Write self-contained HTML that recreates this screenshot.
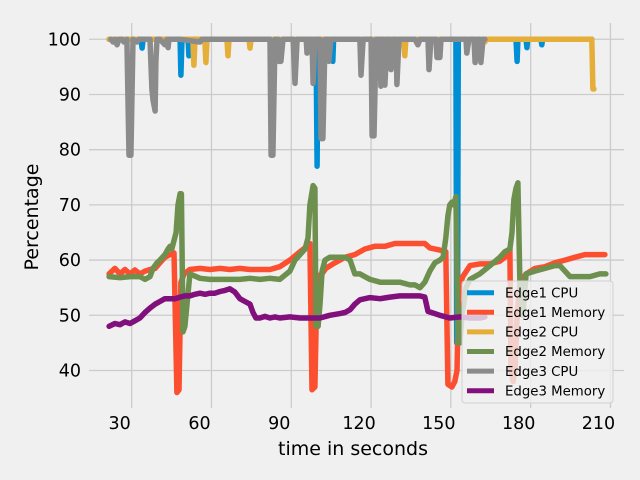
<!DOCTYPE html>
<html><head><meta charset="utf-8"><style>
html,body{margin:0;padding:0;background:#f0f0f0;}
svg{display:block;font-family:"DejaVu Sans","Liberation Sans",sans-serif;}
</style></head><body>
<svg id="chart" width="640" height="480" viewBox="0 0 640 480">
<rect x="0" y="0" width="640" height="480" fill="#f0f0f0"/>
<g id="grid"></g>
<g id="ticks"></g>
<g id="series"></g>
<text x="353" y="455" font-size="19" text-anchor="middle" fill="#000">time in seconds</text>
<text x="38" y="217" font-size="19" text-anchor="middle" fill="#000" transform="rotate(-90 38 217)">Percentage</text>
<g id="legend"></g>
</svg>
<script>
const xTicks=[30,60,90,120,150,180,210];
const yTicks=[40,50,60,70,80,90,100];
const seriesNames=["Edge1 CPU","Edge1 Memory","Edge2 CPU","Edge2 Memory","Edge3 CPU","Edge3 Memory"];
const seriesColors=["#008fd5","#fc4f30","#e5ae38","#6d904f","#8b8b8b","#810f7c"];

const e1cpuT=[21.5,33.5,33.9,34.3,48.2,48.5,48.9,51.2,51.5,51.9,99.3,99.7,100.1,105.3,105.6,105.9,151.9,152.2,152.5,152.8,174.5,174.9,175.2,178.3,178.6,178.9,183.9,184.2,184.5,203.0];
const e1cpuV=[100,100,98.4,100,100,93.5,100,100,97,100,100,77,100,100,96,100,100,45,45,100,100,96,100,100,98.5,100,100,99,100,100];

const e1memT=[21.5,23.7,25.6,27.5,29.4,31.2,33.1,35,36.9,38.8,40.6,42.5,44.4,45.9,47.0,47.8,48.5,49.7,51.9,55.7,59.4,63.2,66.9,70.7,74.5,78.2,82,85.7,89.5,93.3,95.9,97,97.8,98.9,99.7,101.5,103,106.4,110.2,113.9,117.7,121.4,125.2,129,132.7,136.5,140.2,142.1,145.9,148.1,148.9,150.4,151.5,152.3,153,154.5,157.2,160.9,164.7,168.4,170.3,171.5,172.2,172.6,173.4,174.1,174.9,176,178.3,181.6,185.4,189.1,192.9,196.6,200.4,204.2,207.9];
const e1memV=[57.5,58.5,57.5,58.3,57.5,58.2,57.5,58,58.3,58.5,59.5,60.5,61,61.3,36,36.5,56,57.5,58.3,58.5,58.3,58.5,58.3,58.5,58.3,58.3,58.3,58.8,60,61.5,62.5,63,36.5,37,57,57.5,58.5,59.5,60.5,61,62,62.5,62.5,63,63,63,63,62.2,61.8,61.5,37.5,37,38,40,55,57,59,59.3,59.3,59.8,60.5,61,62,40,38,40,50,56,57.5,58.5,58.8,59.5,60,60.5,61,61,61];

const e2cpuT=[21.5,53.0,53.4,53.8,57.5,57.9,58.3,65.8,66.2,66.6,74.1,74.5,74.9,132.3,132.7,133.1,162.4,162.8,163.2,203.0,203.4,203.8];
const e2cpuV=[100,100,95.3,100,100,95.8,100,100,97,100,100,98.4,100,100,97,100,100,99.5,100,100,91,91];

const e2memT=[21.5,25.6,29.4,33.1,35,36.9,38,39.5,40.6,42.5,43.7,44.4,45.1,46.7,47.4,48.2,48.7,49.3,50.0,50.8,51.9,55.7,59.4,63.2,66.9,70.7,74.5,78.2,82,85.7,89.5,91.4,93.3,95.2,96.3,97,98.2,98.9,99.3,100.1,100.8,101.6,102.7,104.5,108.3,110.2,112.1,113.9,115.8,119.6,123.4,127.1,130.8,134.6,136.5,138.4,140.2,142.1,144,145.9,147.1,148.1,148.9,149.6,150.4,151.1,151.9,152.7,153.4,154.2,155.7,157.2,160.9,164.7,168.4,170.3,172.2,173,173.7,174.5,175.2,176,177.1,178.3,181.6,185.4,189.1,191,192.9,194.8,198.5,202.3,206,208.3];
const e2memV=[57,56.8,57,57,56.5,57,58.5,59.5,60,61,62,62.5,62,65,70,72,72,47,48,52,57.5,56.7,56.5,56.5,56.5,56.5,56.7,56.5,56.7,56.5,58,60,61,62,64,70,73.5,73,48,48,52,58,60,60.5,60.5,60.5,60,57.5,57.5,56.5,56,56,56,55.5,55.5,55,56,58,59.5,60,60.5,64,68,70,70.5,70,71.5,45,45,50,55,56.5,57.5,59,60.5,61.5,62,65,71,73,74,55,50,57.5,58,58.5,59,59,58,57,57,57,57.5,57.5];

const e3cpuT=[22.2,23.0,23.7,24.5,25.2,26.4,27.1,28.2,29.0,29.7,30.5,32.0,32.7,33.1,36.9,37.6,38.0,38.8,39.1,39.5,40.6,42.5,43.3,43.7,44.0,48.2,55.7,56.4,66.9,74.5,82.0,82.4,83.1,83.9,85.0,85.4,86.1,86.9,90.7,91.4,92.2,95.6,95.9,96.3,97.8,98.2,98.9,100.8,101.2,101.9,102.7,103.8,104.1,104.9,110.2,115.8,116.2,117.0,120.0,120.4,121.1,121.9,123.4,123.7,124.1,124.9,125.2,126.0,127.1,127.5,128.2,129.4,129.7,130.5,136.5,137.6,138.4,141.4,141.8,142.5,144.4,144.8,145.9,146.3,155.7,156.0,156.8,158.7,159.1,159.8,160.9,161.3,162.1,162.8];
const e3cpuV=[100,99.5,100,99,100,100,99.5,100,79,79,100,99.5,100,100,100,91,89,87,96,100,100,99,100,98.5,100,100,99.5,100,100,100,100,79,79,100,100,96,96,100,100,92,100,100,97.5,100,100,92,100,100,82,82,100,100,96,100,100,100,93.5,100,100,82.5,82.5,100,100,91.5,100,100,91.7,100,100,94.5,100,100,91.8,100,100,99,100,100,94.5,100,100,96.7,96.7,100,100,97.5,100,100,95.8,100,100,95.8,100,100];

const e3memT=[21.5,23.7,25.6,27.5,29.4,31.2,33.1,35,36.9,38.8,40.6,42.5,44.4,46.3,48.2,50,51.9,53.8,55.7,57.6,59.4,61.3,63.2,65.1,66.9,68.8,70.7,72.6,74.5,75.6,76.7,78.2,80.1,82,83.9,85.7,89.5,93.3,97,100.8,104.5,108.3,110.2,112.1,113.9,115.8,119.6,123.4,127.1,130.8,134.6,138.4,140.2,141.4,144,145.9,149.6,153.4,157.2,160.9,162.8];
const e3memV=[48,48.5,48.3,48.8,48.5,49,49.5,50.5,51.3,52,52.5,53,53,53,53.3,53.5,53.5,53.8,54,53.8,54,54,54.3,54.5,54.8,54.2,53,52.5,52,50.5,49.5,49.5,49.8,49.5,49.7,49.5,49.7,49.5,49.5,49.5,50,50.3,50.5,51,52,52.8,53.2,53,53.3,53.5,53.5,53.5,53.3,50.7,50.3,50,49.5,49.7,49.5,49.5,49.7];

const seriesT=[e1cpuT,e1memT,e2cpuT,e2memT,e3cpuT,e3memT];
const seriesV=[e1cpuV,e1memV,e2cpuV,e2memV,e3cpuV,e3memV];

const X0=89,X1=624,Y0=23,Y1=408;
const xMin=13.95,xMax=215.1,yMin=33.2,yMax=102.95;
function xs(t){return X0+(t-xMin)/(xMax-xMin)*(X1-X0);}
function ys(v){return Y1-(v-yMin)/(yMax-yMin)*(Y1-Y0);}
const NS="http://www.w3.org/2000/svg";
const grid=document.getElementById('grid'),ticks=document.getElementById('ticks');
xTicks.forEach(t=>{
  const l=document.createElementNS(NS,'line');
  l.setAttribute('x1',xs(t));l.setAttribute('x2',xs(t));l.setAttribute('y1',Y0);l.setAttribute('y2',Y1);
  l.setAttribute('stroke','#cbcbcb');l.setAttribute('stroke-width','1.3');
  
  
  grid.appendChild(l);
  const tx=document.createElementNS(NS,'text');
  tx.setAttribute('x',xs(t)-12);tx.setAttribute('y',429);tx.setAttribute('font-size','17.5');tx.setAttribute('text-anchor','middle');
  tx.textContent=t;
  
  
  ticks.appendChild(tx);
});
yTicks.forEach(v=>{
  const l=document.createElementNS(NS,'line');
  l.setAttribute('x1',X0);l.setAttribute('x2',X1);l.setAttribute('y1',ys(v));l.setAttribute('y2',ys(v));
  l.setAttribute('stroke','#cbcbcb');l.setAttribute('stroke-width','1.3');
  
  
  grid.appendChild(l);
  const tx=document.createElementNS(NS,'text');
  tx.setAttribute('x',81);tx.setAttribute('y',ys(v)+6);tx.setAttribute('font-size','17.5');tx.setAttribute('text-anchor','end');
  tx.textContent=v;
  
  
  ticks.appendChild(tx);
});
const sg=document.getElementById('series');
seriesNames.forEach((n,i)=>{
  const T=seriesT[i],V=seriesV[i];
  const d=T.map((t,k)=>(k?'L':'M')+xs(t).toFixed(1)+','+ys(V[k]).toFixed(1)).join('');
  const p=document.createElementNS(NS,'path');
  p.setAttribute('d',d);p.setAttribute('fill','none');p.setAttribute('stroke',seriesColors[i]);
  p.setAttribute('stroke-width','5.5');p.setAttribute('stroke-linejoin','round');p.setAttribute('stroke-linecap','round');
  
  
  sg.appendChild(p);
});
const lg=document.getElementById('legend');
const box=document.createElementNS(NS,'rect');
box.setAttribute('x',462);box.setAttribute('y',281);box.setAttribute('width',151);box.setAttribute('height',122);
box.setAttribute('rx',3);box.setAttribute('fill','rgba(240,240,240,0.8)');box.setAttribute('stroke','#d0d0d0');


lg.appendChild(box);
seriesNames.forEach((n,i)=>{
  const y=292.7+i*19.6;
  const g=document.createElementNS(NS,'g');
  
  
  const l=document.createElementNS(NS,'line');
  l.setAttribute('x1',467);l.setAttribute('x2',494);l.setAttribute('y1',y);l.setAttribute('y2',y);
  l.setAttribute('stroke',seriesColors[i]);l.setAttribute('stroke-width','5');
  
  
  const t=document.createElementNS(NS,'text');
  t.setAttribute('x',505);t.setAttribute('y',y+4.7);t.setAttribute('font-size','13.3');
  t.textContent=n;
  
  
  g.appendChild(l);g.appendChild(t);lg.appendChild(g);
});
</script>
</body></html>
